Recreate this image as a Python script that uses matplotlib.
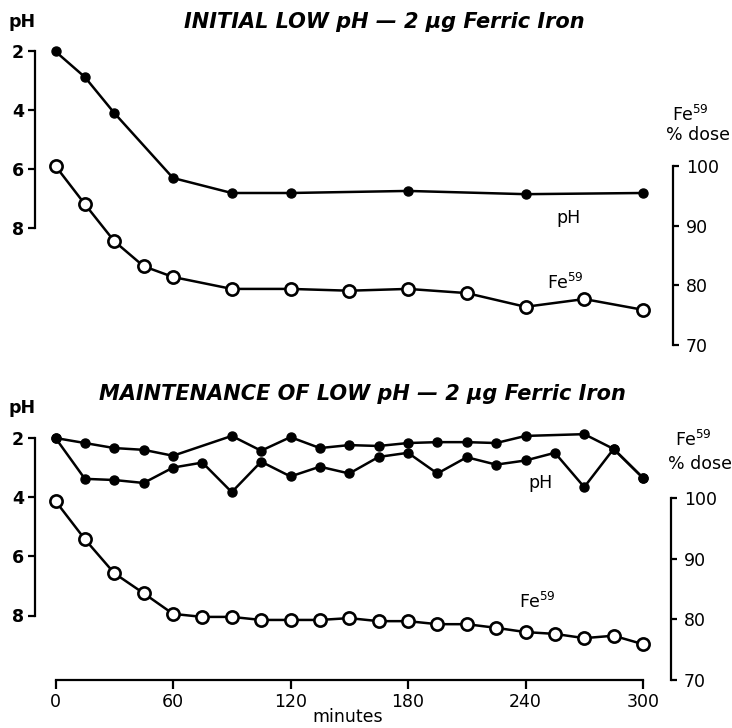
import matplotlib
matplotlib.use("Agg")
import matplotlib.pyplot as plt

# ---- data -------------------------------------------------------------
# Upper panel: initial low pH, 2 ug ferric iron
top_ph_minutes = [0, 15, 30, 60, 90, 120, 180, 240, 300]
top_ph_values = [2.0, 2.87, 4.09, 6.30, 6.81, 6.81, 6.74, 6.85, 6.81]

top_fe_minutes = [0, 15, 30, 45, 60, 90, 120, 150, 180, 210, 240, 270, 300]
top_fe_values = [100.0, 93.6, 87.4, 83.2, 81.4, 79.4, 79.4, 79.1, 79.4,
                 78.7, 76.4, 77.7, 75.9]

# Lower panel: maintenance of low pH, 2 ug ferric iron (two pH records)
low_ph_a_minutes = [0, 15, 30, 45, 60, 90, 105, 120, 135, 150, 165, 180,
                    195, 210, 225, 240, 270, 285, 300]
low_ph_a_values = [2.0, 2.17, 2.34, 2.40, 2.60, 1.93, 2.43, 1.97, 2.34,
                   2.24, 2.27, 2.17, 2.14, 2.14, 2.17, 1.93, 1.87, 2.37, 3.35]

low_ph_b_minutes = [0, 15, 30, 45, 60, 75, 90, 105, 120, 135, 150, 165,
                    180, 195, 210, 225, 240, 255, 270, 285, 300]
low_ph_b_values = [2.0, 3.38, 3.42, 3.52, 3.00, 2.83, 3.83, 2.80, 3.30,
                   2.97, 3.20, 2.64, 2.50, 3.20, 2.65, 2.90, 2.76, 2.50,
                   3.66, 2.37, 3.35]

low_fe_minutes = [0, 15, 30, 45, 60, 75, 90, 105, 120, 135, 150, 165, 180,
                  195, 210, 225, 240, 255, 270, 285, 300]
low_fe_values = [99.5, 93.2, 87.6, 84.3, 80.9, 80.4, 80.4, 79.9, 79.9, 79.9,
                 80.2, 79.7, 79.7, 79.2, 79.2, 78.6, 77.9, 77.6, 76.9, 77.3,
                 75.9]

ph_ticks = [2, 4, 6, 8]
fe_ticks = [70, 80, 90, 100]
fe_tick_labels = ["70", "80", "90", "100"]
minute_ticks = [0, 60, 120, 180, 240, 300]

top_title = "INITIAL LOW pH \u2014 2 \u03bcg Ferric Iron"
low_title = "MAINTENANCE OF LOW pH \u2014 2 \u03bcg Ferric Iron"

# ---- layout helpers -----------------------------------------------------
W, H = 732, 728
DPI = 100
fig = plt.figure(figsize=(W / DPI, H / DPI), dpi=DPI)
fig.patch.set_facecolor("white")

X0, X1 = 55.5, 643.0          # pixel columns of 0 and 300 minutes


def px_axes(y_top, y_bot):
    return fig.add_axes([X0 / W, 1 - y_bot / H, (X1 - X0) / W,
                         (y_bot - y_top) / H])


def limits(v_a, row_a, v_b, row_b, row_top, row_bot):
    k = (v_b - v_a) / (row_b - row_a)
    return v_a + (row_bot - row_a) * k, v_a + (row_top - row_a) * k


def pt(px):
    return px * 72.0 / DPI


LW = 1.8
filled = dict(color="black", lw=LW, marker="o", ms=6.5, mfc="black",
              mec="black", clip_on=False, zorder=3)
hollow = dict(color="black", lw=LW, marker="o", ms=8.8, mfc="white",
              mec="black", mew=1.9, clip_on=False, zorder=4)


def style_panel(ax, twin, left_out, right_out, show_x):
    for s in ("top", "right"):
        ax.spines[s].set_visible(False)
    ax.spines["left"].set_position(("outward", pt(left_out)))
    ax.spines["left"].set_bounds(2, 8)
    ax.spines["left"].set_linewidth(1.6)
    ax.set_yticks(ph_ticks)
    ax.set_yticklabels([str(v) for v in ph_ticks], fontweight="bold",
                       fontsize=12.5)
    ax.tick_params(axis="y", direction="out", length=pt(7), width=1.6,
                   pad=3)
    ax.set_xlim(0, 300)
    if show_x:
        ax.spines["bottom"].set_linewidth(1.6)
        ax.spines["bottom"].set_bounds(0, 300)
        ax.set_xticks(minute_ticks)
        ax.set_xticklabels([str(v) for v in minute_ticks], fontsize=12.5)
        ax.tick_params(axis="x", direction="out", length=pt(9), width=1.6,
                       pad=3)
    else:
        ax.spines["bottom"].set_visible(False)
        ax.set_xticks([])

    for s in ("top", "left", "bottom"):
        twin.spines[s].set_visible(False)
    twin.spines["right"].set_position(("outward", pt(right_out)))
    twin.spines["right"].set_bounds(70, 100)
    twin.spines["right"].set_linewidth(1.6)
    twin.set_yticks(fe_ticks)
    twin.set_yticklabels(fe_tick_labels, fontsize=12.5)
    twin.tick_params(axis="y", direction="out", length=pt(6), width=1.6,
                     pad=5)
    ax.patch.set_visible(False)
    twin.patch.set_visible(False)


# ---- upper panel --------------------------------------------------------
ax1 = px_axes(45, 350)
ax1.set_ylim(*limits(2, 51.5, 8, 228.0, 45, 350))
tw1 = ax1.twinx()
tw1.set_ylim(*limits(100, 166.0, 70, 345.0, 45, 350))
style_panel(ax1, tw1, X0 - 35, 673 - X1, False)

ax1.plot(top_ph_minutes, top_ph_values, **filled)
tw1.plot(top_fe_minutes, top_fe_values, **hollow)

# ---- lower panel --------------------------------------------------------
ax2 = px_axes(425, 680)
ax2.set_ylim(*limits(2, 438.0, 8, 615.5, 425, 680))
tw2 = ax2.twinx()
tw2.set_ylim(*limits(100, 498.0, 70, 680.0, 425, 680))
style_panel(ax2, tw2, X0 - 35, 671 - X1, True)

ax2.plot(low_ph_a_minutes, low_ph_a_values, **filled)
ax2.plot(low_ph_b_minutes, low_ph_b_values, **filled)
tw2.plot(low_fe_minutes, low_fe_values, **hollow)


# ---- text ---------------------------------------------------------------
def ftext(x, y, s, **kw):
    fig.text(x / W, 1 - y / H, s, **kw)


title_kw = dict(ha="center", va="center", fontsize=15, fontweight="bold",
                fontstyle="italic")
ftext(384, 22, top_title, **title_kw)
ftext(362, 394, low_title, **title_kw)

ftext(22, 22, "pH", ha="center", va="center", fontsize=12.5,
      fontweight="bold")
ftext(22, 408, "pH", ha="center", va="center", fontsize=12.5,
      fontweight="bold")

ftext(568, 218, "pH", ha="center", va="center", fontsize=12.5)
ftext(565, 283, "Fe$^{59}$", ha="center", va="center", fontsize=12.5)
ftext(541, 483, "pH", ha="center", va="center", fontsize=12.5)
ftext(537, 602, "Fe$^{59}$", ha="center", va="center", fontsize=12.5)

ftext(690, 115, "Fe$^{59}$", ha="center", va="center", fontsize=12.5)
ftext(698, 135, "% dose", ha="center", va="center", fontsize=12.5)
ftext(693, 440, "Fe$^{59}$", ha="center", va="center", fontsize=12.5)
ftext(700, 464, "% dose", ha="center", va="center", fontsize=12.5)

ftext(348, 717, "minutes", ha="center", va="center", fontsize=12.5)

fig.savefig("out.png", dpi=DPI, facecolor="white")
